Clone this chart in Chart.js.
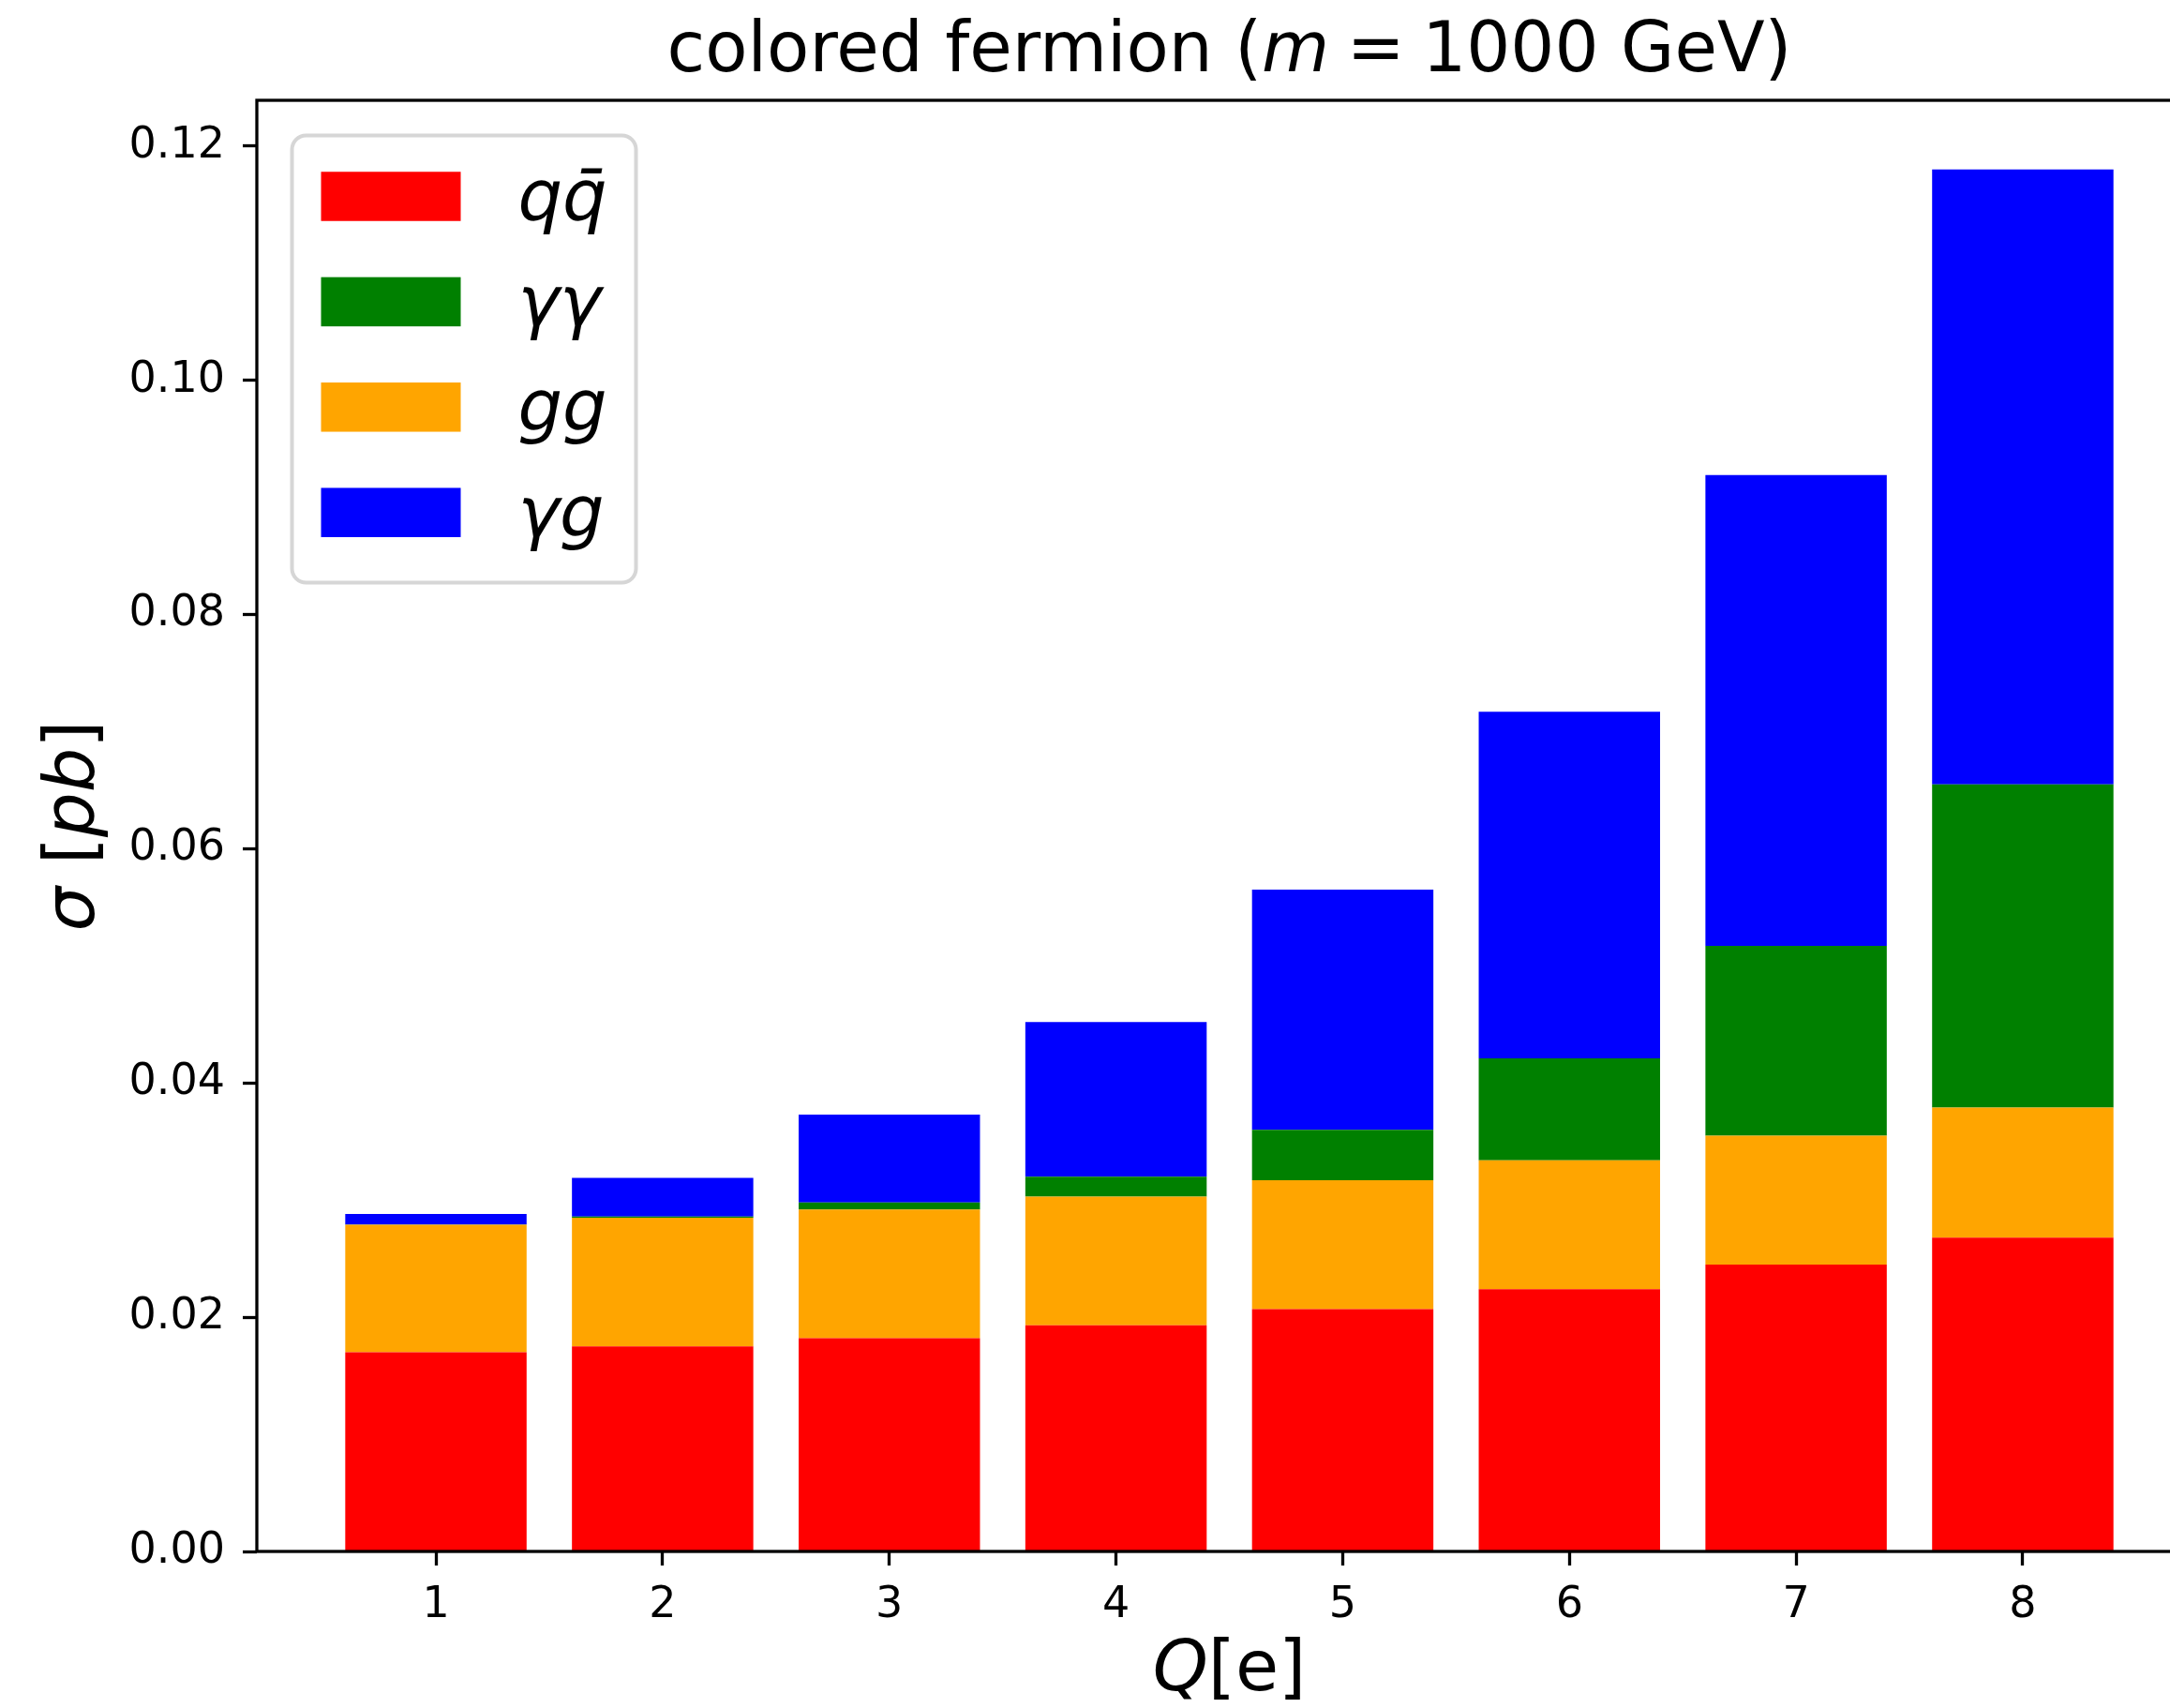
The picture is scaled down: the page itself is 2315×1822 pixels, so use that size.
<!DOCTYPE html>
<html>
<head>
<meta charset="utf-8">
<script src="https://cdn.jsdelivr.net/npm/chart.js@4/dist/chart.umd.min.js"></script>
<style>
  html, body { margin: 0; padding: 0; background: #fff; overflow: hidden; }
  #contenedor { width: 2315px; height: 1822px; overflow: hidden; }
  #grafico { display: block; }
</style>
</head>
<body>
<div id="contenedor"><canvas id="grafico" width="2623" height="1822"></canvas></div>
<script>
// datos (sigma en pb por canal, Q = 1..8)
const cargas = [1, 2, 3, 4, 5, 6, 7, 8];
const valoresQQ = [0.0170, 0.0175, 0.0182, 0.0193, 0.0207, 0.0224, 0.0245, 0.0268];
const valoresGG = [0.0109, 0.0110, 0.0110, 0.0110, 0.0110, 0.0110, 0.0110, 0.0111];
const valoresYY = [0.00001, 0.0001, 0.0006, 0.0017, 0.0043, 0.0087, 0.0162, 0.0276];
const valoresYG = [0.0009, 0.0033, 0.0075, 0.0132, 0.0205, 0.0296, 0.0402, 0.0525];

const ticksX = [1, 2, 3, 4, 5, 6, 7, 8];
const ticksY = [0, 0.02, 0.04, 0.06, 0.08, 0.10, 0.12];
const limitesX = [0.21, 8.79];
const limitesY = [0, 0.1239];

// orden de apilado: qq, gg, yy, yg
const nombres = ['qq\u0304', 'gg', 'γγ', 'γg'];
const colores = ['#ff0000', '#ffa500', '#008000', '#0000ff'];
const series = [valoresQQ, valoresGG, valoresYY, valoresYG];
const ordenLeyenda = [0, 2, 1, 3];

const fuente = '"DejaVu Sans"';

function escribir(ctx, tramos, x, y, tam) {
  const f = t => (t[1] ? 'italic ' : '') + tam + 'px ' + fuente;
  let ancho = 0;
  tramos.forEach(t => { ctx.font = f(t); ancho += ctx.measureText(t[0]).width; });
  let xx = x - ancho / 2;
  ctx.textAlign = 'left';
  ctx.textBaseline = 'alphabetic';
  tramos.forEach(t => {
    ctx.font = f(t);
    ctx.fillText(t[0], xx, y);
    xx += ctx.measureText(t[0]).width;
  });
}

const textos = {
  id: 'textos',
  afterDatasetsDraw(chart) {
    const { ctx, chartArea: a } = chart;
    ctx.save();
    ctx.strokeStyle = '#000';
    ctx.lineWidth = 3.3;
    ctx.strokeRect(a.left, a.top, a.right - a.left, a.bottom - a.top);
    ctx.restore();
  },
  afterDraw(chart) {
    const { ctx, chartArea: a } = chart;
    const centroX = (a.left + a.right) / 2;
    ctx.save();
    ctx.fillStyle = '#000';

    escribir(ctx, [['colored fermion (', false], ['m', true], ['\u2005=\u20051000 GeV)', false]], centroX, 76, 74);
    escribir(ctx, [['Q', true], ['[e]', false]], centroX, 1803, 75);

    ctx.save();
    ctx.translate(100, (a.top + a.bottom) / 2);
    ctx.rotate(-Math.PI / 2);
    escribir(ctx, [['σ', true], [' [', false], ['pb', true], [']', false]], 0, 0, 75);
    ctx.restore();

    // leyenda
    const x0 = a.left + 37.5, y0 = a.top + 37.5;
    ctx.beginPath();
    ctx.roundRect(x0, y0, 367, 477, 15);
    ctx.fillStyle = 'rgba(255,255,255,0.8)';
    ctx.fill();
    ctx.strokeStyle = '#d6d6d6';
    ctx.lineWidth = 4;
    ctx.stroke();

    ordenLeyenda.forEach((k, i) => {
      const cy = y0 + 65 + i * 112.4;
      ctx.fillStyle = colores[k];
      ctx.fillRect(x0 + 31, cy - 26.25, 149, 52.5);
      ctx.fillStyle = '#000';
      ctx.font = 'italic 75px ' + fuente;
      ctx.textAlign = 'left';
      ctx.textBaseline = 'alphabetic';
      ctx.fillText(nombres[k], x0 + 241, cy + 25);
    });
    ctx.restore();
  }
};

const datasets = series.map((vals, k) => ({
  label: nombres[k],
  data: vals.map((v, i) => ({ x: cargas[i], y: v })),
  backgroundColor: colores[k],
  borderWidth: 0,
  barPercentage: 0.8,
  categoryPercentage: 1.0
}));

const marcas = {
  display: true,
  drawOnChartArea: false,
  drawTicks: true,
  tickLength: 15,
  tickWidth: 3.3,
  tickColor: '#000',
  offset: false
};

const ctx = document.getElementById('grafico').getContext('2d');
const chart = new Chart(ctx, {
  type: 'bar',
  data: { datasets: datasets },
  options: {
    responsive: false,
    devicePixelRatio: 1,
    animation: false,
    layout: { padding: { top: 107, right: 274, bottom: 0, left: 0 } },
    plugins: {
      legend: { display: false },
      title: { display: false },
      tooltip: { enabled: false }
    },
    scales: {
      x: {
        type: 'linear',
        min: limitesX[0],
        max: limitesX[1],
        stacked: true,
        offset: false,
        afterFit: s => { s.height = 167; },
        afterBuildTicks: s => { s.ticks = ticksX.map(v => ({ value: v })); },
        border: { display: false },
        grid: marcas,
        ticks: {
          color: '#000',
          font: { family: 'DejaVu Sans', size: 46 },
          padding: 15,
          maxRotation: 0,
          autoSkip: false,
          callback: v => String(v)
        }
      },
      y: {
        type: 'linear',
        min: limitesY[0],
        max: limitesY[1],
        stacked: true,
        afterFit: s => { s.width = 274; },
        afterBuildTicks: s => { s.ticks = ticksY.map(v => ({ value: v })); },
        border: { display: false },
        grid: marcas,
        ticks: {
          color: '#000',
          font: { family: 'DejaVu Sans', size: 46 },
          padding: 19,
          autoSkip: false,
          callback: v => v.toFixed(2)
        }
      }
    }
  },
  plugins: [textos]
});
</script>
</body>
</html>
